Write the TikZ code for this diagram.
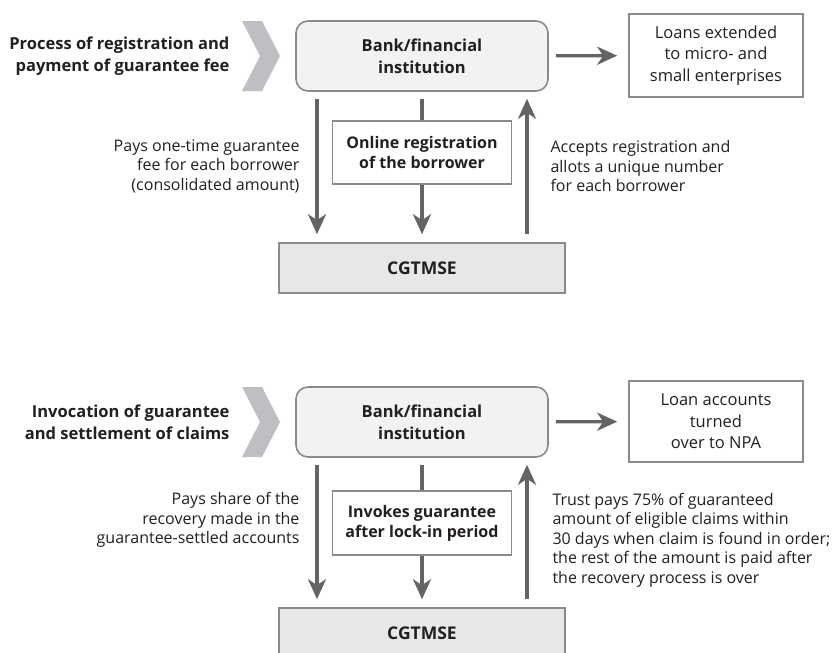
\documentclass[tikz,border=0pt]{standalone}
\usepackage{fontspec}
\setmainfont{Open Sans}
\usetikzlibrary{arrows.meta, positioning, calc}
\definecolor{cgline}{RGB}{138, 138, 140}
\definecolor{cgarrow}{RGB}{100, 100, 102}
\definecolor{cgbank}{RGB}{241, 242, 243}
\definecolor{cgtrust}{RGB}{230, 231, 232}
\definecolor{cgchev}{RGB}{190, 191, 194}
\definecolor{cgtext}{RGB}{35, 31, 32}

\begin{document}
\begin{tikzpicture}[x=1pt, y=-1pt,
        every node/.style={text=cgtext, font=\fontsize{16}{19.6}\selectfont},
        bank/.style={draw=cgline, fill=cgbank, line width=1.6pt, rounded corners=12pt, minimum width=252pt, minimum height=70pt, align=center, font=\fontsize{16.5}{22}\selectfont\bfseries},
        outbox/.style={draw=cgline, fill=white, line width=1.6pt, minimum width=174pt, align=center, font=\fontsize{16.5}{21.5}\selectfont},
        stepbox/.style={draw=cgline, fill=white, line width=1.6pt, minimum width=179pt, align=center, font=\fontsize{16}{20}\selectfont\bfseries},
        trust/.style={draw=cgline, fill=cgtrust, line width=1.6pt, minimum width=286pt, minimum height=50pt, font=\fontsize{17.5}{20}\selectfont\bfseries},
        phase/.style={align=right, anchor=east, font=\fontsize{16.5}{22}\selectfont\bfseries},
        note/.style={align=right, anchor=east},
        arr/.style={-{Stealth[length=20pt, width=18pt, inset=6pt]}, line width=3.4pt, cgarrow},
        chev/.style={fill=cgchev, draw=none}
      ]
        \clip (0,0) rectangle (838,653);

        % registration and guarantee fee
        \fill[chev] (242,21) -- (262,21) -- (280,56) -- (262,91) -- (242,91) -- (260,56) -- cycle;
        \node[phase] (regphase) at (233,56) {Process of registration and\\payment of guarantee fee};
        \node[bank] (bank1) at (422,56) {Bank/financial\\institution};
        \node[outbox, minimum height=83pt] (loans) at (716,55.5) {Loans extended\\to micro- and\\small enterprises};
        \node[stepbox, minimum height=63pt] (online) at (422,152.5) {Online registration\\of the borrower};
        \node[trust] (cg1) at (422,268) {CGTMSE};
        \node[note] (fee) at (303,166) {Pays one-time guarantee\\fee for each borrower\\(consolidated amount)};
        \node[note, align=left, anchor=west] (allot) at (547,166) {Accepts registration and\\allots a unique number\\for each borrower};

        \draw[arr, shorten <=7pt, shorten >=11pt] (bank1) -- (loans);
        \draw[arr, shorten <=7pt, shorten >=8pt] ([xshift=-105pt]bank1.south) -- ([xshift=-105pt]bank1.south |- cg1.north);
        \draw[line width=3.4pt, cgarrow, shorten <=7pt] (bank1.south) -- (online.north);
        \draw[arr, shorten >=8pt] (online) -- (cg1);
        \draw[arr, shorten <=8pt, shorten >=7pt] ([xshift=105pt]cg1.north |- cg1.north) -- ([xshift=105pt]cg1.north |- bank1.south);

        % invocation and settlement of claims
        \fill[chev] (242,387) -- (262,387) -- (280,422) -- (262,457) -- (242,457) -- (260,422) -- cycle;
        \node[phase] (claimphase) at (233,422) {Invocation of guarantee\\and settlement of claims};
        \node[bank] (bank2) at (422,422) {Bank/financial\\institution};
        \node[outbox, minimum height=81pt] (npa) at (716,421.5) {Loan accounts\\turned\\over to NPA};
        \node[stepbox, minimum height=64pt] (invoke) at (422,523) {Invokes guarantee\\after lock-in period};
        \node[trust] (cg2) at (422,633) {CGTMSE};
        \node[note] (share) at (303,520) {Pays share of the\\recovery made in the\\guarantee-settled accounts};
        \node[note, align=left, anchor=west] (settle) at (549,540) {Trust pays 75\% of guaranteed\\amount of eligible claims within\\30 days when claim is found in order;\\the rest of the amount is paid after\\the recovery process is over};

        \draw[arr, shorten <=7pt, shorten >=11pt] (bank2) -- (npa);
        \draw[arr, shorten <=7pt, shorten >=8pt] ([xshift=-105pt]bank2.south) -- ([xshift=-105pt]bank2.south |- cg2.north);
        \draw[line width=3.4pt, cgarrow, shorten <=7pt] (bank2.south) -- (invoke.north);
        \draw[arr, shorten >=8pt] (invoke) -- (cg2);
        \draw[arr, shorten <=8pt, shorten >=7pt] ([xshift=105pt]cg2.north |- cg2.north) -- ([xshift=105pt]cg2.north |- bank2.south);
      \end{tikzpicture}
\end{document}
